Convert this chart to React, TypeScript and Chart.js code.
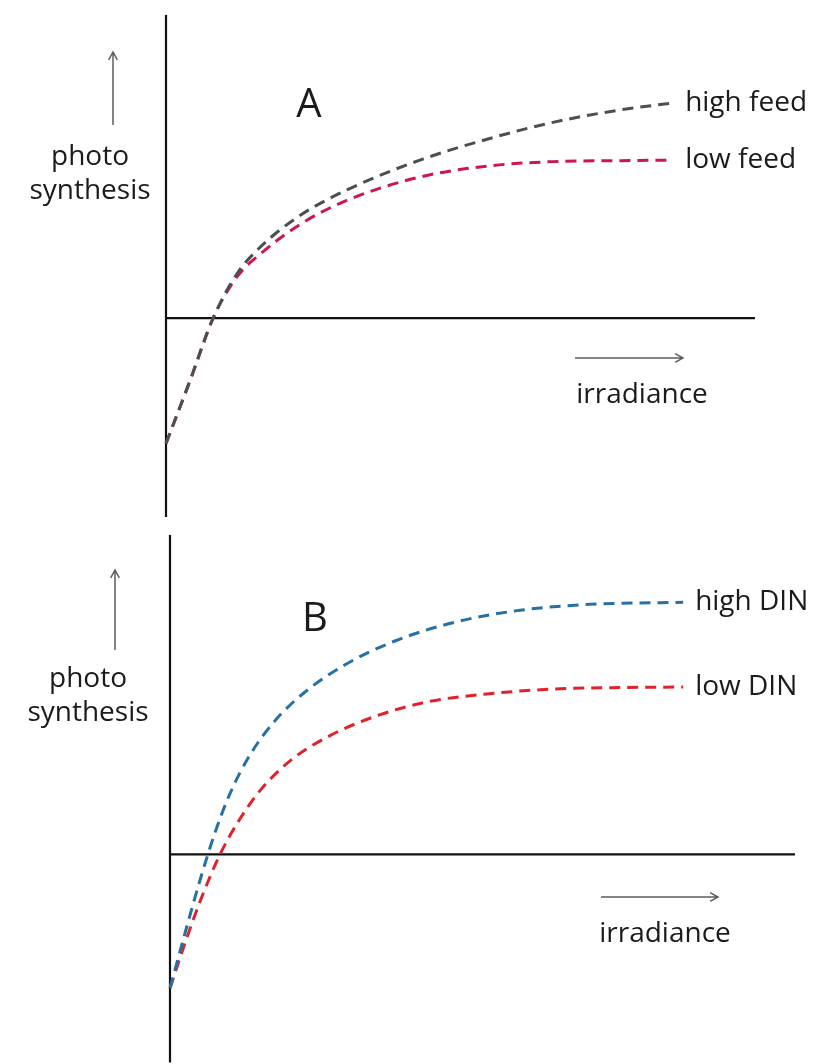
import React, { useEffect, useRef } from "react";
import { Chart, registerables } from "chart.js";

Chart.register(...registerables);

// ---------- data (arbitrary units) ----------
const irradianceA = [0, 4.1, 8, 12, 16, 22.8, 30.7, 43.1, 54.5, 65.7, 77.1, 86.1];
const highFeed = [-2.52, -1.25, 0, 0.885, 1.43, 2.07, 2.58, 3.18, 3.6, 3.94, 4.19, 4.33];
const lowFeed = [-2.52, -1.25, 0, 0.825, 1.29, 1.89, 2.37, 2.84, 3.06, 3.15, 3.17, 3.18];

const irradianceBHigh = [0, 2.4, 4.8, 7.2, 9.6, 12.8, 16.8, 21.6, 28, 36, 45.6, 56, 67.2, 82.1];
const highDIN = [-2.7, -1.59, -0.52, 0.44, 1.23, 2.01, 2.7, 3.28, 3.83, 4.31, 4.69, 4.93, 5.05, 5.09];
const irradianceBLow = [0, 2.4, 4.8, 8, 11.2, 14.4, 19.2, 25.6, 33.1, 41.1, 50.7, 61.3, 72, 82.1];
const lowDIN = [-2.7, -1.79, -0.95, 0, 0.72, 1.29, 1.89, 2.4, 2.8, 3.08, 3.24, 3.34, 3.37, 3.38];

const panelLetters = ["A", "B"];
const seriesNamesA = ["high feed", "low feed"];
const seriesNamesB = ["high DIN", "low DIN"];
const yAxisTitle = ["photo", "synthesis"];
const xAxisTitle = "irradiance";

const FONT = '"Open Sans", "DejaVu Sans", sans-serif';
const TEXT_COLOR = "#1b1b1b";
const ARROW_COLOR = "#5e5e5e";

function toPoints(xs: number[], ys: number[]) {
  return xs.map((x, i) => ({ x, y: ys[i] }));
}

type PanelCfg = {
  top: number;
  height: number;
  padding: { left: number; right: number; top: number; bottom: number };
  yMin: number;
  yMax: number;
  letter: string;
  letterPos: [number, number];
  upArrow: { x: number; top: number; bottom: number };
  titleX: number;
  titleY: [number, number];
  rightArrow: { x1: number; x2: number; y: number };
  xTitlePos: [number, number];
  datasets: { label: string; xs: number[]; ys: number[]; color: string }[];
};

const panels: PanelCfg[] = [
  {
    top: 0,
    height: 526,
    padding: { left: 166, right: 66, top: 15, bottom: 9 },
    yMin: -4,
    yMax: 6.1,
    letter: panelLetters[0],
    letterPos: [309, 106],
    upArrow: { x: 113, top: 52, bottom: 125 },
    titleX: 90,
    titleY: [157, 191],
    rightArrow: { x1: 575, x2: 683, y: 358 },
    xTitlePos: [642, 395],
    datasets: [
      { label: seriesNamesA[0], xs: irradianceA, ys: highFeed, color: "#4a504e" },
      { label: seriesNamesA[1], xs: irradianceA, ys: lowFeed, color: "#cc1552" },
    ],
  },
  {
    top: 526,
    height: 538,
    padding: { left: 170, right: 26, top: 9, bottom: 0 },
    yMin: -4.2,
    yMax: 6.45,
    letter: panelLetters[1],
    letterPos: [315, 94],
    upArrow: { x: 115, top: 44, bottom: 124 },
    titleX: 88,
    titleY: [153, 187],
    rightArrow: { x1: 601, x2: 718, y: 371 },
    xTitlePos: [665, 408],
    datasets: [
      { label: seriesNamesB[0], xs: irradianceBHigh, ys: highDIN, color: "#2670a3" },
      { label: seriesNamesB[1], xs: irradianceBLow, ys: lowDIN, color: "#e0222b" },
    ],
  },
];

function drawArrow(ctx: CanvasRenderingContext2D, x1: number, y1: number, x2: number, y2: number) {
  const ang = Math.atan2(y2 - y1, x2 - x1);
  const head = 9;
  ctx.save();
  ctx.strokeStyle = ARROW_COLOR;
  ctx.lineWidth = 1.5;
  ctx.beginPath();
  ctx.moveTo(x1, y1);
  ctx.lineTo(x2, y2);
  ctx.moveTo(x2 - head * Math.cos(ang - 0.5), y2 - head * Math.sin(ang - 0.5));
  ctx.lineTo(x2, y2);
  ctx.lineTo(x2 - head * Math.cos(ang + 0.5), y2 - head * Math.sin(ang + 0.5));
  ctx.stroke();
  ctx.restore();
}

function Panel({ cfg }: { cfg: PanelCfg }) {
  const ref = useRef<HTMLCanvasElement>(null);

  useEffect(() => {
    if (!ref.current) return;
    const decor = {
      id: "decor",
      beforeDatasetsDraw(chart: any) {
        const ctx = chart.ctx as CanvasRenderingContext2D;
        const { x, y } = chart.scales;
        const area = chart.chartArea;
        const x0 = x.getPixelForValue(0);
        const y0 = y.getPixelForValue(0);
        ctx.save();
        ctx.strokeStyle = "#111";
        ctx.lineWidth = 2.2;
        ctx.beginPath();
        ctx.moveTo(x0, area.top);
        ctx.lineTo(x0, area.bottom);
        ctx.moveTo(x0, y0);
        ctx.lineTo(area.right, y0);
        ctx.stroke();
        ctx.restore();
      },
      afterDatasetsDraw(chart: any) {
        const ctx = chart.ctx as CanvasRenderingContext2D;
        ctx.save();
        ctx.fillStyle = TEXT_COLOR;
        ctx.font = `40px ${FONT}`;
        ctx.textAlign = "center";
        ctx.textBaseline = "middle";
        ctx.fillText(cfg.letter, cfg.letterPos[0], cfg.letterPos[1]);
        ctx.font = `28px ${FONT}`;
        ctx.fillText(yAxisTitle[0], cfg.titleX, cfg.titleY[0]);
        ctx.fillText(yAxisTitle[1], cfg.titleX, cfg.titleY[1]);
        ctx.fillText(xAxisTitle, cfg.xTitlePos[0], cfg.xTitlePos[1]);
        ctx.textAlign = "left";
        chart.data.datasets.forEach((ds: any, i: number) => {
          const meta = chart.getDatasetMeta(i);
          const last = meta.data[meta.data.length - 1];
          ctx.fillText(ds.label, last.x + 12, last.y);
        });
        ctx.restore();
        drawArrow(ctx, cfg.upArrow.x, cfg.upArrow.bottom, cfg.upArrow.x, cfg.upArrow.top);
        drawArrow(ctx, cfg.rightArrow.x1, cfg.rightArrow.y, cfg.rightArrow.x2, cfg.rightArrow.y);
      },
    };

    const chart = new Chart(ref.current, {
      type: "line",
      data: {
        datasets: cfg.datasets.map((d) => ({
          label: d.label,
          data: toPoints(d.xs, d.ys),
          borderColor: d.color,
          backgroundColor: d.color,
          borderWidth: 3,
          borderDash: [11, 7],
          pointRadius: 0,
          cubicInterpolationMode: "monotone" as const,
          fill: false,
          clip: false as any,
        })),
      },
      options: {
        responsive: false,
        animation: false,
        layout: { padding: cfg.padding },
        plugins: { legend: { display: false }, tooltip: { enabled: false } },
        scales: {
          x: { type: "linear", min: 0, max: 100, display: false },
          y: { type: "linear", min: cfg.yMin, max: cfg.yMax, display: false },
        },
      },
      plugins: [decor],
    });
    if ((document as any).fonts?.ready) {
      (document as any).fonts.ready.then(() => chart.update());
    }
    return () => chart.destroy();
  }, [cfg]);

  return (
    <canvas
      ref={ref}
      width={821}
      height={cfg.height}
      style={{ position: "absolute", left: 0, top: cfg.top, width: 821, height: cfg.height, display: "block" }}
    />
  );
}

export default function App() {
  return (
    <div style={{ position: "absolute", left: 0, top: 0, width: 821, height: 1064, background: "#fff" }}>
      {panels.map((p, i) => (
        <Panel key={i} cfg={p} />
      ))}
    </div>
  );
}
